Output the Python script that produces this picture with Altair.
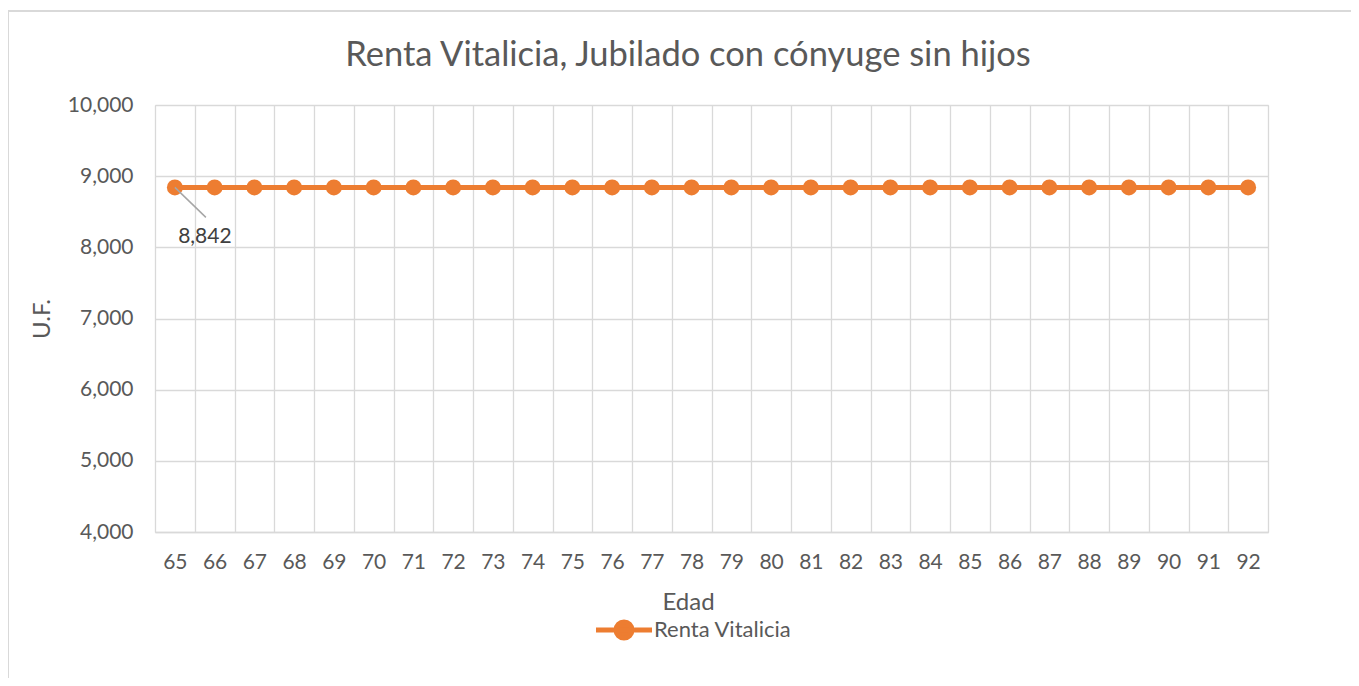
import altair as alt
import pandas as pd

# ---- data ----
edad = [65, 66, 67, 68, 69, 70, 71, 72, 73, 74, 75, 76, 77, 78,
        79, 80, 81, 82, 83, 84, 85, 86, 87, 88, 89, 90, 91, 92]
renta = [8842, 8842, 8842, 8842, 8842, 8842, 8842, 8842, 8842, 8842,
         8842, 8842, 8842, 8842, 8842, 8842, 8842, 8842, 8842, 8842,
         8842, 8842, 8842, 8842, 8842, 8842, 8842, 8842]
serie = "Renta Vitalicia"
y_ticks = [4000, 5000, 6000, 7000, 8000, 9000, 10000]
label_idx = [0]
label_txt = ["8,842"]

df = pd.DataFrame({"Edad": edad, "UF": renta, "Serie": [serie] * len(edad)})
lbl = df.iloc[label_idx].copy()
lbl["txt"] = label_txt

# category boundaries for the grid (Excel draws grid between categories)
x_bounds = [e - 0.5 for e in edad] + [edad[-1] + 0.5]

ORANGE = "#ED7D31"
GRID = "#D9D9D9"
TXT = "#595959"
FONT = "Lato"

W, H = 1113, 427
step = W / len(edad)

x_enc = alt.X(
    "Edad:Q",
    scale=alt.Scale(domain=[x_bounds[0], x_bounds[-1]], nice=False, zero=False),
    axis=alt.Axis(
        title="Edad", values=x_bounds, tickCount=60,
        labelExpr="datum.value > 92 ? '' : format(datum.value + 0.5, 'd')",
        labelOffset=step / 2, ticks=False, grid=True, gridColor=GRID, gridWidth=1.3,
        domainColor=GRID, domainWidth=1.3, labelFontSize=21, labelColor=TXT,
        labelFont=FONT, labelPadding=19, labelFlush=False, labelOverlap=False,
        titleFont=FONT, titleFontSize=24, titleColor=TXT, titleFontWeight="normal",
        titleX=533, titleY=70, titleBaseline="middle",
    ),
)
y_enc = alt.Y(
    "UF:Q",
    scale=alt.Scale(domain=[4000, 10000], nice=False, zero=False),
    axis=alt.Axis(
        title="U.F.", values=y_ticks, format=",.0f", ticks=False, domain=False,
        gridColor=GRID, gridWidth=1.3, labelFontSize=21, labelColor=TXT,
        labelFont=FONT, labelPadding=22,
        titleFont=FONT, titleFontSize=24, titleColor=TXT, titleFontWeight="normal",
        titleX=-113, titleY=H / 2, titleBaseline="middle", titleAngle=-90,
    ),
)

legend_path = "M-3.5,0L3.5,0M1,0A1,1,0,1,1,-1,0A1,1,0,1,1,1,0Z"
color_enc = alt.Color(
    "Serie:N",
    scale=alt.Scale(range=[ORANGE]),
    legend=alt.Legend(
        title=None, orient="none", legendX=458, legendY=514,
        symbolType=legend_path, symbolSize=256, symbolStrokeWidth=5,
        symbolFillColor=ORANGE, symbolStrokeColor=ORANGE,
        labelFont=FONT, labelFontSize=22, labelColor=TXT, labelOffset=19,
    ),
)

line = alt.Chart(df).mark_line(strokeWidth=5).encode(x=x_enc, y=y_enc, color=color_enc)
pts = alt.Chart(df).mark_point(filled=True, size=256, opacity=1, shape="circle").encode(
    x=x_enc, y=y_enc, color=color_enc)

leader = alt.Chart(lbl).mark_rule(color="#A6A6A6", strokeWidth=1.5, x2Offset=31, y2Offset=30).encode(
    x="Edad:Q", y="UF:Q", x2="Edad:Q", y2="UF:Q")
text = alt.Chart(lbl).mark_text(dx=30, dy=50, fontSize=21, font=FONT, color="#404040").encode(
    x="Edad:Q", y="UF:Q", text="txt:N")

# chart-area frame (left and top edges visible in the reference)
frame_left = alt.Chart(lbl).mark_rule(color=GRID, strokeWidth=2).encode(
    x=alt.value(-147), y=alt.value(-94), y2=alt.value(600))
frame_top = alt.Chart(lbl).mark_rule(color=GRID, strokeWidth=2).encode(
    x=alt.value(-147), x2=alt.value(1220), y=alt.value(-94))

chart = alt.layer(frame_left, frame_top, line, pts, leader, text).properties(
    width=W, height=H,
    title=alt.TitleParams(
        text="Renta Vitalicia, Jubilado con cónyuge sin hijos",
        font=FONT, fontSize=34.5, fontWeight="normal", color=TXT,
        anchor="middle", frame="group", dx=-23.5, dy=93, offset=30,
    ),
    padding={"left": 147, "top": 97, "right": 83, "bottom": 146},
    autosize=alt.AutoSizeParams(type="none"),
).configure_view(stroke=None).configure(font=FONT)

chart.save("out.html", embed_options={"renderer": "svg", "actions": False})
